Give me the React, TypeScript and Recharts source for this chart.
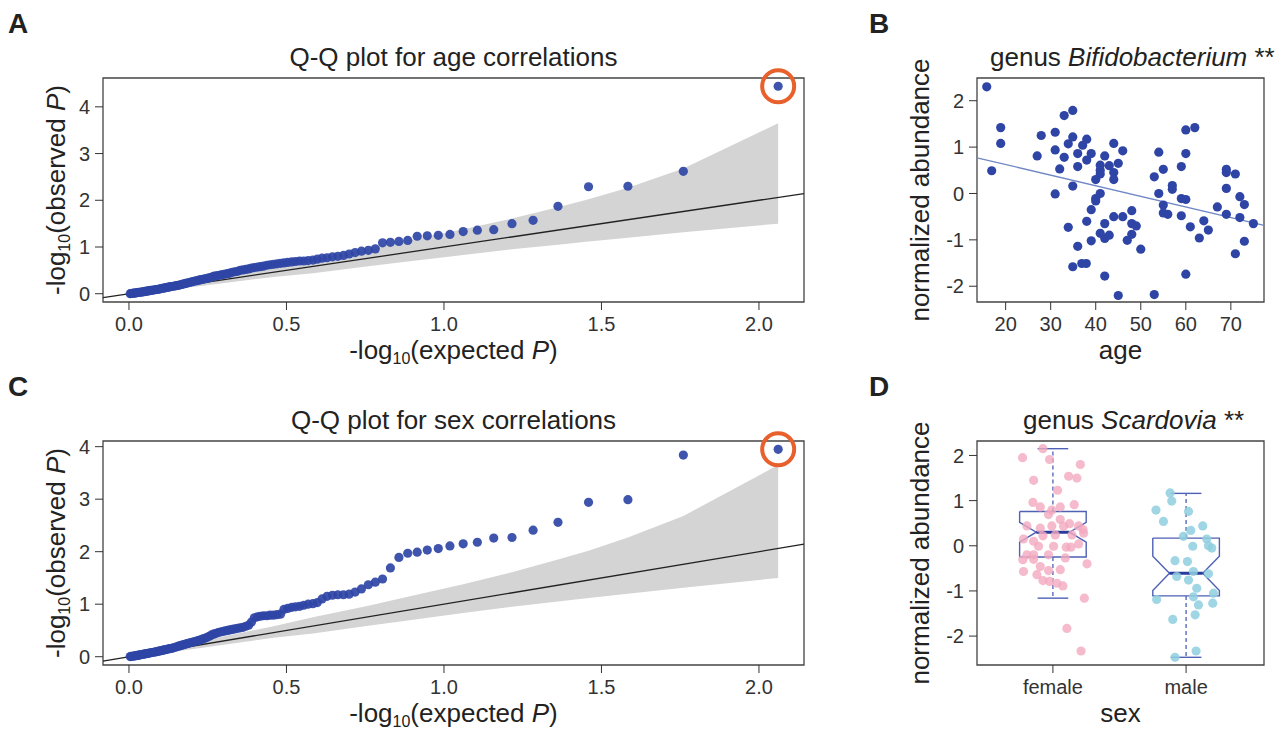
import React from 'react';
import {
  ComposedChart,
  Scatter,
  Line,
  Area,
  XAxis,
  YAxis,
  ReferenceArea,
} from 'recharts';

const FONT = '"Liberation Sans", Arial, Helvetica, sans-serif';
const INK = '#333333';
const DOT = '#2f45a6';

// expected -log10(P), shared by both Q-Q plots (114 tests)
const expectedP = [
  2.061, 1.760, 1.584, 1.459, 1.362, 1.283, 1.216, 1.158, 1.106, 1.061,
  1.019, 0.982, 0.947, 0.915, 0.885, 0.857, 0.830, 0.805, 0.782, 0.760,
  0.738, 0.718, 0.699, 0.681, 0.663, 0.646, 0.629, 0.613, 0.598, 0.584,
  0.569, 0.555, 0.542, 0.529, 0.517, 0.504, 0.492, 0.481, 0.470, 0.459,
  0.448, 0.438, 0.427, 0.417, 0.408, 0.398, 0.389, 0.380, 0.371, 0.362,
  0.353, 0.345, 0.336, 0.328, 0.320, 0.313, 0.305, 0.297, 0.290, 0.283,
  0.275, 0.268, 0.261, 0.255, 0.248, 0.241, 0.235, 0.228, 0.222, 0.216,
  0.209, 0.203, 0.197, 0.191, 0.185, 0.180, 0.174, 0.168, 0.163, 0.157,
  0.152, 0.147, 0.141, 0.136, 0.131, 0.126, 0.121, 0.116, 0.111, 0.106,
  0.102, 0.097, 0.092, 0.087, 0.083, 0.078, 0.074, 0.069, 0.065, 0.061,
  0.056, 0.052, 0.048, 0.044, 0.040, 0.035, 0.031, 0.027, 0.023, 0.019,
  0.015, 0.011, 0.007, 0.004,
];

// observed -log10(P) for age correlations
const observedAge = [
  4.44, 2.62, 2.30, 2.29, 1.87, 1.57, 1.50, 1.37, 1.36, 1.33,
  1.27, 1.25, 1.24, 1.23, 1.14, 1.12, 1.10, 1.09, 0.96, 0.93,
  0.91, 0.88, 0.85, 0.82, 0.80, 0.79, 0.77, 0.76, 0.74, 0.72,
  0.71, 0.70, 0.70, 0.69, 0.68, 0.67, 0.66, 0.65, 0.64, 0.63,
  0.62, 0.61, 0.59, 0.58, 0.57, 0.56, 0.55, 0.53, 0.52, 0.51,
  0.50, 0.48, 0.47, 0.46, 0.44, 0.43, 0.42, 0.41, 0.40, 0.39,
  0.38, 0.37, 0.35, 0.34, 0.33, 0.32, 0.31, 0.30, 0.29, 0.28,
  0.27, 0.26, 0.25, 0.24, 0.23, 0.22, 0.21, 0.20, 0.19, 0.18,
  0.175, 0.17, 0.16, 0.155, 0.15, 0.14, 0.135, 0.13, 0.12, 0.115,
  0.11, 0.10, 0.095, 0.09, 0.085, 0.08, 0.075, 0.07, 0.065, 0.06,
  0.055, 0.05, 0.045, 0.04, 0.035, 0.03, 0.03, 0.025, 0.02, 0.015,
  0.012, 0.008, 0.005, 0.002,
];

// observed -log10(P) for sex correlations
const observedSex = [
  3.95, 3.84, 2.99, 2.94, 2.56, 2.41, 2.27, 2.26, 2.18, 2.15,
  2.11, 2.06, 2.03, 1.99, 1.97, 1.89, 1.69, 1.48, 1.42, 1.37,
  1.29, 1.23, 1.19, 1.18, 1.18, 1.17, 1.15, 1.10, 1.03, 1.01,
  1.00, 0.98, 0.96, 0.95, 0.94, 0.92, 0.90, 0.81, 0.80, 0.79,
  0.79, 0.78, 0.78, 0.77, 0.76, 0.74, 0.66, 0.60, 0.58, 0.56,
  0.55, 0.54, 0.53, 0.52, 0.51, 0.50, 0.49, 0.48, 0.47, 0.46,
  0.44, 0.43, 0.41, 0.39, 0.37, 0.35, 0.34, 0.32, 0.31, 0.30,
  0.29, 0.28, 0.27, 0.26, 0.25, 0.24, 0.23, 0.22, 0.21, 0.20,
  0.19, 0.18, 0.17, 0.16, 0.155, 0.15, 0.14, 0.135, 0.13, 0.12,
  0.115, 0.11, 0.10, 0.095, 0.09, 0.085, 0.08, 0.075, 0.07, 0.065,
  0.06, 0.055, 0.05, 0.045, 0.04, 0.035, 0.03, 0.025, 0.02, 0.017,
  0.013, 0.009, 0.005, 0.002,
];

// grey 95% band around the diagonal
const bandX = [0.004, 0.061, 0.216, 0.459, 0.584, 0.760, 0.885, 1.061, 1.216, 1.362, 1.459, 1.584, 1.760, 2.061];
const bandLow = [0.0, 0.031, 0.156, 0.36, 0.44, 0.59, 0.69, 0.83, 0.95, 1.05, 1.12, 1.20, 1.315, 1.50];
const bandHigh = [0.014, 0.092, 0.284, 0.58, 0.75, 0.97, 1.14, 1.38, 1.61, 1.85, 2.02, 2.27, 2.68, 3.65];

const qqXDomain = [-0.0824, 2.143];
const qqTicksX = [0, 0.5, 1, 1.5, 2];
const qqTicksY = [0, 1, 2, 3, 4];

// panel B: Bifidobacterium vs age
const ages = [
  15.8, 16.9, 18.9, 18.9, 27.0, 27.9, 31.0, 31.0, 31.0, 32.0,
  33.0, 33.0, 33.9, 33.9, 34.9, 34.9, 34.9, 34.9, 36.0, 36.0,
  36.0, 36.9, 37.1, 37.9, 38.0, 38.0, 38.0, 39.0, 39.0, 39.0,
  40.0, 40.0, 40.0, 41.0, 41.0, 41.0, 41.0, 41.0, 42.0, 42.0,
  42.0, 42.0, 43.0, 43.0, 44.0, 44.0, 44.0, 44.0, 45.0, 45.0,
  46.0, 46.0, 47.0, 48.0, 48.0, 48.0, 49.0, 50.0, 53.0, 53.0,
  54.0, 54.0, 55.0, 55.0, 55.0, 56.0, 57.0, 57.0, 59.0, 59.0,
  59.0, 60.0, 60.0, 60.0, 60.0, 61.0, 62.0, 63.0, 64.0, 65.0,
  67.0, 69.0, 69.0, 69.0, 69.0, 71.0, 71.0, 72.0, 72.0, 73.0,
  73.0, 75.0,
];
const bifido = [
  2.30, 0.49, 1.42, 1.08, 0.81, 1.25, 1.32, 0.94, -0.01, 0.53,
  0.78, 1.68, 1.07, -0.73, 1.79, 1.22, 0.16, -1.58, 0.86, 0.58,
  -1.14, -1.51, 1.04, -1.51, 1.17, 0.72, -0.60, 0.86, -0.35, -1.02,
  0.30, -0.11, -0.16, 0.61, 0.50, 0.42, 0.00, -0.86, 0.81, -0.65,
  -0.97, -1.78, 0.60, -0.90, 1.08, 0.45, 0.30, -0.50, 0.65, -2.20,
  0.92, -0.50, -1.01, -0.37, -0.65, -0.88, -0.70, -1.20, 0.36, -2.18,
  0.89, 0.00, 0.52, -0.25, -0.42, -0.45, 0.17, 0.09, 0.58, -0.11,
  -0.48, 1.37, 0.86, -0.13, -1.74, -0.72, 1.42, -0.96, -0.59, -0.79,
  -0.29, 0.52, 0.45, 0.11, -0.45, 0.42, -1.30, -0.07, -0.52, -0.24,
  -1.03, -0.65,
];
const fitAge = [13.64, 77.36];
const fitValue = [0.77, -0.69];
const ageTicks = [20, 30, 40, 50, 60, 70];
const abundTicks = [-2, -1, 0, 1, 2];

// panel D: Scardovia by sex
const sexLabels = ['female', 'male'];
const femaleX = [
  0.772, 0.925, 0.975, 1.206, 0.855, 1.118, 1.180, 1.035, 0.850, 0.905,
  0.992, 1.055, 1.160, 0.967, 1.055, 1.125, 1.193, 1.226, 0.805, 0.905,
  0.992, 1.080, 0.925, 1.018, 1.143, 1.231, 0.855, 0.779, 0.892, 1.005,
  1.100, 1.135, 1.193, 0.805, 0.855, 0.967, 1.093, 0.774, 0.855, 0.905,
  0.967, 1.055, 1.256, 0.779, 0.880, 0.925, 0.975, 1.030, 1.075, 1.236,
  1.105, 1.211,
];
const femaleY = [
  1.95, 2.15, 1.91, 1.80, 1.45, 1.54, 1.50, 1.23, 0.96, 0.86,
  0.79, 0.86, 0.91, 0.69, 0.58, 0.49, 0.44, 0.36, 0.44, 0.39,
  0.44, 0.43, 0.22, 0.24, 0.24, 0.28, 0.10, 0.15, -0.01, -0.01,
  -0.03, -0.03, 0.04, -0.20, -0.20, -0.20, -0.27, -0.31, -0.30, -0.46,
  -0.55, -0.53, -0.40, -0.57, -0.64, -0.77, -0.79, -0.83, -0.89, -1.16,
  -1.83, -2.33,
];
const maleX = [
  1.880, 1.892, 1.774, 2.018, 1.830, 2.125, 2.035, 1.980, 2.155, 2.050,
  2.168, 2.193, 1.917, 2.010, 1.930, 2.018, 2.055, 2.168, 2.080, 2.206,
  1.779, 2.055, 2.200, 2.093, 2.068, 1.900, 2.075, 1.917,
];
const maleY = [
  1.17, 0.99, 0.79, 0.76, 0.54, 0.44, 0.34, 0.21, 0.15, -0.01,
  0.00, -0.05, -0.33, -0.35, -0.68, -0.76, -0.57, -0.62, -0.94, -1.05,
  -1.19, -1.13, -1.27, -1.31, -1.53, -1.63, -2.33, -2.47,
];
const boxQ1 = [-0.25, -1.11];
const boxMedian = [0.30, -0.61];
const boxQ3 = [0.76, 0.17];
const notchLow = [0.08, -0.99];
const notchHigh = [0.52, -0.23];
const whiskerLow = [-1.16, -2.47];
const whiskerHigh = [2.15, 1.16];

const tickStyle = { fill: INK, fontSize: 20, fontFamily: FONT };
const tickLine = { stroke: INK, strokeWidth: 1 };

const dotShape = (color: string, r = 4.6, opacity = 1) => (p: any) => (
  <circle cx={p.cx} cy={p.cy} r={r} fill={color} fillOpacity={opacity} />
);
const ringShape = (p: any) => (
  <circle cx={p.cx} cy={p.cy} r={16} fill="none" stroke="#e8602c" strokeWidth={4} />
);

function QQPanel({ observed, yDomain, top }: { observed: number[]; yDomain: number[]; top: number }) {
  const points = expectedP.map((x, i) => ({ x, y: observed[i] }));
  const band = bandX.map((x, i) => ({ x, band: [bandLow[i], bandHigh[i]] }));
  const diag = qqXDomain.map((v) => ({ x: v, y: v }));
  return (
    <div style={{ position: 'absolute', left: 0, top, width: 820, height: 340 }}>
      <ComposedChart width={820} height={340} margin={{ top: 78, right: 16, bottom: 0, left: 0 }}>
        <XAxis
          type="number"
          dataKey="x"
          domain={qqXDomain}
          ticks={qqTicksX}
          interval={0}
          height={38}
          axisLine={false}
          tickSize={8}
          tickMargin={7}
          tickLine={tickLine}
          tick={tickStyle}
          tickFormatter={(v: number) => v.toFixed(1)}
        />
        <YAxis
          type="number"
          dataKey="y"
          domain={yDomain}
          ticks={qqTicksY}
          interval={0}
          width={103}
          axisLine={false}
          tickSize={8}
          tickMargin={5}
          tickLine={tickLine}
          tick={tickStyle}
        />
        <Area
          data={band}
          dataKey="band"
          type="linear"
          stroke="none"
          fill="#d4d4d4"
          fillOpacity={1}
          dot={false}
          activeDot={false}
          isAnimationActive={false}
        />
        <Line data={diag} dataKey="y" stroke="#222" strokeWidth={1.3} dot={false} activeDot={false} isAnimationActive={false} />
        <Scatter data={points} shape={dotShape(DOT, 4.6, 0.92)} isAnimationActive={false} />
        <Scatter data={[points[0]]} shape={ringShape} isAnimationActive={false} />
        <ReferenceArea
          x1={qqXDomain[0]}
          x2={qqXDomain[1]}
          y1={yDomain[0]}
          y2={yDomain[1]}
          fill="none"
          stroke="#444"
          strokeWidth={1.3}
          ifOverflow="visible"
        />
      </ComposedChart>
    </div>
  );
}

function AgePanel() {
  const xDomain = [13.64, 77.36];
  const yDomain = [-2.34, 2.49];
  const points = ages.map((a, i) => ({ age: a, value: bifido[i] }));
  const fit = fitAge.map((a, i) => ({ age: a, value: fitValue[i] }));
  return (
    <div style={{ position: 'absolute', left: 860, top: 0, width: 425, height: 340 }}>
      <ComposedChart width={425} height={340} margin={{ top: 78, right: 21, bottom: 0, left: 0 }}>
        <XAxis
          type="number"
          dataKey="age"
          domain={xDomain}
          ticks={ageTicks}
          interval={0}
          height={38}
          axisLine={false}
          tickSize={8}
          tickMargin={7}
          tickLine={tickLine}
          tick={tickStyle}
        />
        <YAxis
          type="number"
          dataKey="value"
          domain={yDomain}
          ticks={abundTicks}
          interval={0}
          width={117}
          axisLine={false}
          tickSize={8}
          tickMargin={5}
          tickLine={tickLine}
          tick={tickStyle}
        />
        <Line data={fit} dataKey="value" stroke="#6f87c4" strokeWidth={1.3} dot={false} activeDot={false} isAnimationActive={false} />
        <Scatter data={points} shape={dotShape(DOT, 4.6)} isAnimationActive={false} />
        <ReferenceArea x1={xDomain[0]} x2={xDomain[1]} y1={yDomain[0]} y2={yDomain[1]} fill="none" stroke="#444" strokeWidth={1.3} ifOverflow="visible" />
      </ComposedChart>
    </div>
  );
}

function SexPanel() {
  const xDomain = [0.43, 2.585];
  const yDomain = [-2.64, 2.32];
  const w = 0.25;
  const cap = 0.115;
  const boxColor = '#4f60b5';
  const female = femaleX.map((x, i) => ({ x, y: femaleY[i] }));
  const male = maleX.map((x, i) => ({ x, y: maleY[i] }));

  const series: React.ReactNode[] = [];
  sexLabels.forEach((_, g) => {
    const c = g + 1;
    const outline = [
      { x: c - w, y: boxQ3[g] },
      { x: c + w, y: boxQ3[g] },
      { x: c + w, y: notchHigh[g] },
      { x: c + w / 2, y: boxMedian[g] },
      { x: c + w, y: notchLow[g] },
      { x: c + w, y: boxQ1[g] },
      { x: c - w, y: boxQ1[g] },
      { x: c - w, y: notchLow[g] },
      { x: c - w / 2, y: boxMedian[g] },
      { x: c - w, y: notchHigh[g] },
      { x: c - w, y: boxQ3[g] },
    ];
    const median = [{ x: c - w / 2, y: boxMedian[g] }, { x: c + w / 2, y: boxMedian[g] }];
    const upper = [{ x: c, y: boxQ3[g] }, { x: c, y: whiskerHigh[g] }];
    const lower = [{ x: c, y: boxQ1[g] }, { x: c, y: whiskerLow[g] }];
    const capHi = [{ x: c - cap, y: whiskerHigh[g] }, { x: c + cap, y: whiskerHigh[g] }];
    const capLo = [{ x: c - cap, y: whiskerLow[g] }, { x: c + cap, y: whiskerLow[g] }];
    const common = { dataKey: 'y', dot: false, activeDot: false, isAnimationActive: false, type: 'linear' as const };
    series.push(<Line key={`o${g}`} data={outline} stroke={boxColor} strokeWidth={1.4} {...common} />);
    series.push(<Line key={`u${g}`} data={upper} stroke={boxColor} strokeWidth={1.3} strokeDasharray="4 3" {...common} />);
    series.push(<Line key={`l${g}`} data={lower} stroke={boxColor} strokeWidth={1.3} strokeDasharray="4 3" {...common} />);
    series.push(<Line key={`ch${g}`} data={capHi} stroke={boxColor} strokeWidth={1.4} {...common} />);
    series.push(<Line key={`cl${g}`} data={capLo} stroke={boxColor} strokeWidth={1.4} {...common} />);
    series.push(<Line key={`m${g}`} data={median} stroke="#283a9c" strokeWidth={3} {...common} />);
  });

  return (
    <div style={{ position: 'absolute', left: 860, top: 363, width: 425, height: 340 }}>
      <ComposedChart width={425} height={340} margin={{ top: 78, right: 21, bottom: 0, left: 0 }}>
        <XAxis
          type="number"
          dataKey="x"
          domain={xDomain}
          ticks={[1, 2]}
          interval={0}
          height={38}
          axisLine={false}
          tickSize={8}
          tickMargin={7}
          tickLine={tickLine}
          tick={tickStyle}
          tickFormatter={(v: number) => sexLabels[Math.round(v) - 1]}
        />
        <YAxis
          type="number"
          dataKey="y"
          domain={yDomain}
          ticks={abundTicks}
          interval={0}
          width={117}
          axisLine={false}
          tickSize={8}
          tickMargin={5}
          tickLine={tickLine}
          tick={tickStyle}
        />
        <Scatter data={female} shape={dotShape('#f2a9bf', 4.6, 0.8)} isAnimationActive={false} />
        <Scatter data={male} shape={dotShape('#8fcfdf', 4.6, 0.85)} isAnimationActive={false} />
        {series}
        <ReferenceArea x1={xDomain[0]} x2={xDomain[1]} y1={yDomain[0]} y2={yDomain[1]} fill="none" stroke="#444" strokeWidth={1.3} ifOverflow="visible" />
      </ComposedChart>
    </div>
  );
}

function LogLabel({ x, y, word, rotate }: { x: number; y: number; word: string; rotate?: boolean }) {
  return (
    <text
      x={x}
      y={y}
      textAnchor="middle"
      fontSize={26}
      fill="#222"
      fontFamily={FONT}
      style={{ whiteSpace: 'pre' }}
      transform={rotate ? `rotate(-90, ${x}, ${y})` : undefined}
    >
      -log
      <tspan dy={5} fontSize={16}>10</tspan>
      <tspan dy={-5}>{`(${word} `}</tspan>
      <tspan fontStyle="italic">P</tspan>
      <tspan>)</tspan>
    </text>
  );
}

function Labels() {
  const t = { fontFamily: FONT, fill: '#222' };
  return (
    <svg width={1285} height={731} style={{ position: 'absolute', left: 0, top: 0, pointerEvents: 'none' }}>
      <text x={8} y={33} fontSize={28} fontWeight="bold" {...t}>A</text>
      <text x={869} y={33} fontSize={28} fontWeight="bold" {...t}>B</text>
      <text x={8} y={396} fontSize={28} fontWeight="bold" {...t}>C</text>
      <text x={869} y={396} fontSize={28} fontWeight="bold" {...t}>D</text>

      <text x={453.5} y={66} fontSize={26} textAnchor="middle" {...t}>Q-Q plot for age correlations</text>
      <text x={453.5} y={429} fontSize={26} textAnchor="middle" {...t}>Q-Q plot for sex correlations</text>
      <LogLabel x={453.5} y={359} word="expected" />
      <LogLabel x={453.5} y={722} word="expected" />
      <LogLabel x={65} y={190} word="observed" rotate />
      <LogLabel x={65} y={553} word="observed" rotate />

      <text x={990} y={66} fontSize={26} style={{ whiteSpace: 'pre' }} {...t}>
        genus <tspan fontStyle="italic">Bifidobacterium</tspan> **
      </text>
      <text x={1023} y={429} fontSize={26} style={{ whiteSpace: 'pre' }} {...t}>
        genus <tspan fontStyle="italic">Scardovia</tspan> **
      </text>
      <text x={1120.5} y={359} fontSize={26} textAnchor="middle" {...t}>age</text>
      <text x={1120.5} y={722} fontSize={26} textAnchor="middle" {...t}>sex</text>
      <text x={929} y={190} fontSize={26} textAnchor="middle" transform="rotate(-90, 929, 190)" {...t}>normalized abundance</text>
      <text x={929} y={553} fontSize={26} textAnchor="middle" transform="rotate(-90, 929, 553)" {...t}>normalized abundance</text>
    </svg>
  );
}

export default function App() {
  return (
    <div style={{ position: 'absolute', left: 0, top: 0, width: 1285, height: 731, background: '#fff', overflow: 'hidden' }}>
      <QQPanel observed={observedAge} yDomain={[-0.177, 4.617]} top={0} />
      <QQPanel observed={observedSex} yDomain={[-0.158, 4.108]} top={363} />
      <AgePanel />
      <SexPanel />
      <Labels />
    </div>
  );
}
